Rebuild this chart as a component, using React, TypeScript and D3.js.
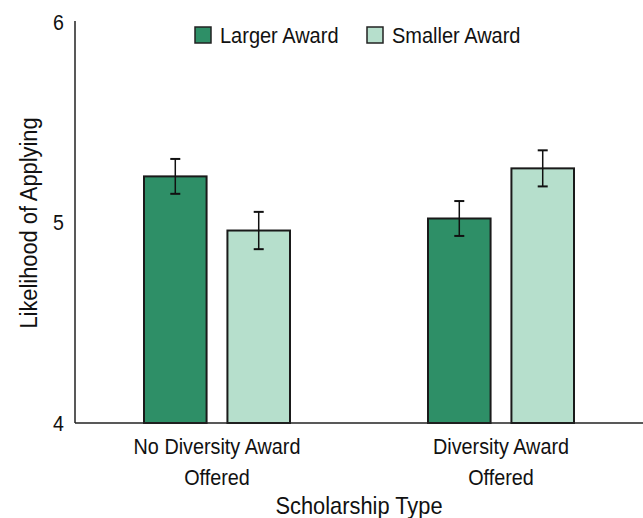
import React from "react";
import * as d3 from "d3";

const categories = ["No Diversity Award\nOffered", "Diversity Award\nOffered"];
const seriesNames = ["Larger Award", "Smaller Award"];
const largerValues = [5.23, 5.02];
const smallerValues = [4.96, 5.27];
const largerErrors = [0.087, 0.087];
const smallerErrors = [0.093, 0.09];
const yTicks = [4, 5, 6];

const colors = ["#2e8f67", "#b6dfcc"];
const FONT = "'Liberation Sans', Arial, sans-serif";

function T({ x, y, size, sx = 0.89, anchor = "start", rotate = 0, dy, children }: any) {
  return (
    <text
      transform={`translate(${x},${y}) rotate(${rotate}) scale(${sx},1)`}
      textAnchor={anchor}
      dy={dy}
      fontFamily={FONT}
      fontSize={size}
      fill="#111"
    >
      {children}
    </text>
  );
}

export default function App() {
  const width = 643;
  const height = 518;
  const margin = { left: 75, right: 0, top: 22, bottom: 95 };
  const plotBottom = 423;

  const x0 = d3.scaleBand<string>().domain(categories).range([margin.left, width]).paddingInner(0).paddingOuter(0);
  const groupWidth = 146;
  const x1 = d3.scaleBand<string>().domain(seriesNames).range([0, groupWidth]).paddingInner(0.25);
  const y = d3.scaleLinear().domain([4, 6]).range([plotBottom, margin.top]);

  const series = [
    { name: seriesNames[0], values: largerValues, errors: largerErrors, color: colors[0] },
    { name: seriesNames[1], values: smallerValues, errors: smallerErrors, color: colors[1] },
  ];

  return (
    <svg width={width} height={height} style={{ position: "absolute", left: 0, top: 0, background: "#fff" }}>
      {categories.map((c, ci) => {
        const gx = (x0(c) as number) + x0.bandwidth() / 2 - groupWidth / 2;
        return (
          <g key={c}>
            {series.map((s) => {
              const bx = gx + (x1(s.name) as number);
              const bw = x1.bandwidth();
              const v = s.values[ci];
              const e = s.errors[ci];
              const cx = bx + bw / 2;
              return (
                <g key={s.name}>
                  <rect x={bx} y={y(v)} width={bw} height={plotBottom - y(v)} fill={s.color} stroke="#1a1a1a" strokeWidth={2} />
                  <line x1={cx} x2={cx} y1={y(v + e)} y2={y(v - e)} stroke="#111" strokeWidth={1.5} />
                  <line x1={cx - 5} x2={cx + 5} y1={y(v + e)} y2={y(v + e)} stroke="#111" strokeWidth={2} />
                  <line x1={cx - 5} x2={cx + 5} y1={y(v - e)} y2={y(v - e)} stroke="#111" strokeWidth={2} />
                </g>
              );
            })}
          </g>
        );
      })}
      <line x1={margin.left} x2={margin.left} y1={y(6) - 1} y2={plotBottom} stroke="#222" strokeWidth={1.5} />
      <line x1={margin.left} x2={width} y1={plotBottom} y2={plotBottom} stroke="#222" strokeWidth={1.5} />
      {yTicks.map((t) => (
        <T key={t} x={64} y={y(t)} dy="0.36em" anchor="end" size={22}>
          {t}
        </T>
      ))}
      {categories.map((c) => {
        const cx = (x0(c) as number) + x0.bandwidth() / 2;
        const lines = c.split("\n");
        return (
          <g key={c}>
            {lines.map((l, i) => (
              <T key={i} x={cx} y={454 + i * 31} anchor="middle" size={22.5} sx={0.88}>
                {l}
              </T>
            ))}
          </g>
        );
      })}
      <T x={359} y={514} anchor="middle" size={24} sx={0.91}>
        Scholarship Type
      </T>
      <T x={37} y={223} anchor="middle" size={24} sx={0.91} rotate={-90}>
        Likelihood of Applying
      </T>
      {series.map((s, i) => {
        const lx = i === 0 ? 195 : 367;
        return (
          <g key={s.name}>
            <rect x={lx} y={27} width={16} height={16} fill={s.color} stroke="#222" strokeWidth={1.5} />
            <T x={lx + 25} y={35} dy="0.36em" size={21.5} sx={0.93}>
              {s.name}
            </T>
          </g>
        );
      })}
    </svg>
  );
}
